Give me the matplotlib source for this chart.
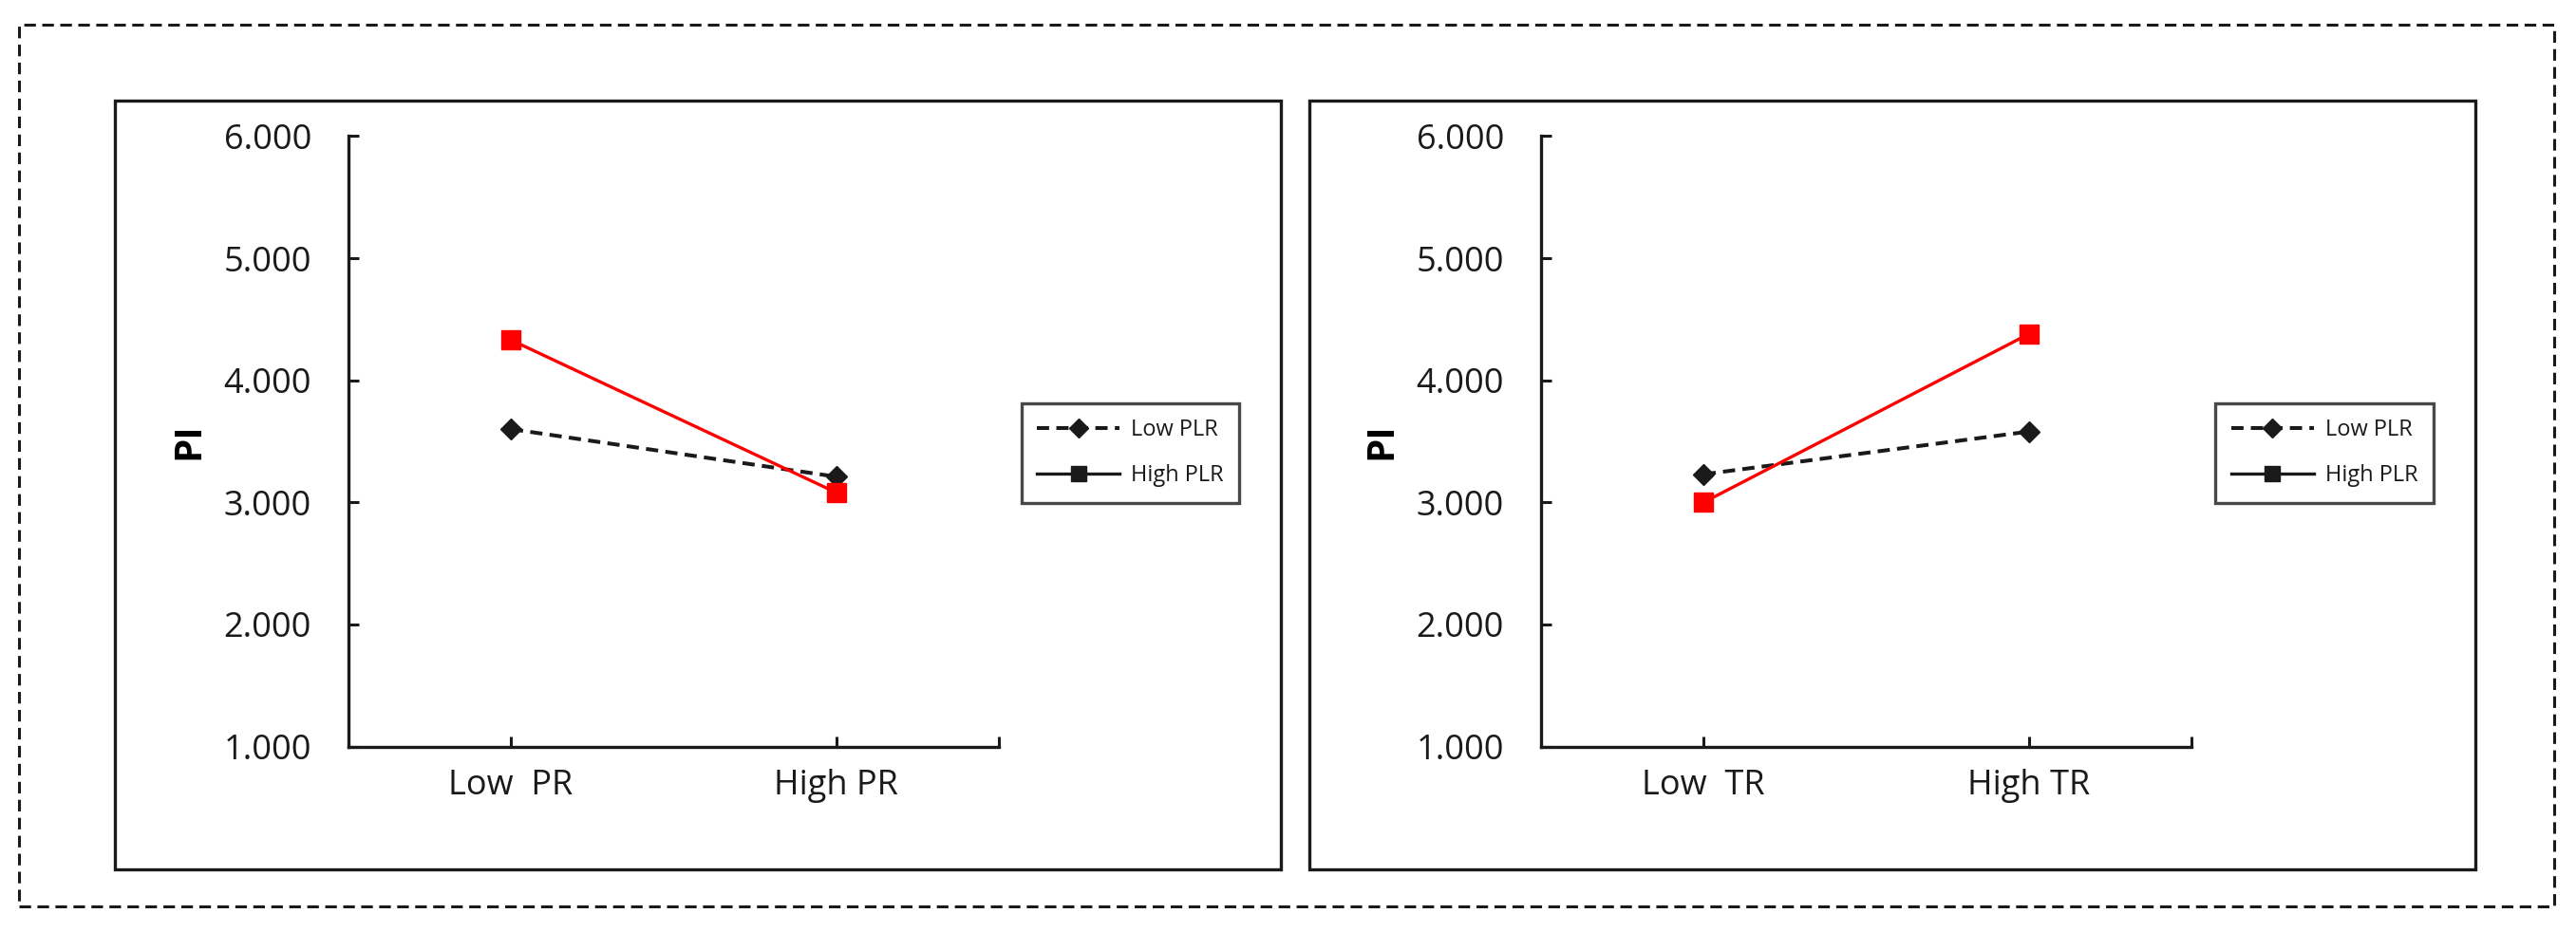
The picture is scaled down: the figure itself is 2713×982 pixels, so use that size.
"""Simple-slope interaction plots: PI by PR and TR, split by PLR level."""

import matplotlib

matplotlib.use("Agg")
import matplotlib.pyplot as plt  # noqa: E402
from matplotlib.lines import Line2D  # noqa: E402
from matplotlib.patches import Rectangle  # noqa: E402

# --- data ------------------------------------------------------------------ #
pr_labels = ["Low  PR", "High PR"]
tr_labels = ["Low  TR", "High TR"]
series_names = ["Low PLR", "High PLR"]
low_plr_pr = [3.60, 3.21]
high_plr_pr = [4.33, 3.08]
low_plr_tr = [3.23, 3.58]
high_plr_tr = [3.00, 4.38]
y_ticks = [1, 2, 3, 4, 5, 6]

INK = "#1a1a1a"
RED = "#ff0000"

plt.rcParams.update({"font.family": ["Open Sans", "DejaVu Sans"], "text.color": INK})

fig = plt.figure(figsize=(27.13, 9.82), dpi=100)
fig.patch.set_facecolor("white")

# Outer dashed frame.
fig.patches.append(Rectangle(
    (0.0074, 0.028), 0.9843, 0.946, transform=fig.transFigure,
    fill=False, edgecolor=INK, linewidth=2.2, linestyle=(0, (4, 2.2))))


def panel(box_x, ax_x, legend_x, labels, low, high):
    # Solid panel border.
    fig.patches.append(Rectangle(
        (box_x, 0.067), 0.4525, 0.825, transform=fig.transFigure,
        fill=False, edgecolor=INK, linewidth=2.4))

    ax = fig.add_axes([ax_x, 0.199, 0.2526, 0.655])
    xs = range(len(labels))
    ax.plot(xs, low, color=INK, linewidth=2.9, linestyle=(0, (3.2, 1.9)),
            marker="D", markersize=11, zorder=3)
    ax.plot(xs, high, color=RED, linewidth=2.4, linestyle="-",
            marker="s", markersize=15, zorder=4)

    ax.set_xlim(-0.5, 1.5)
    ax.set_ylim(1, 6)
    ax.set_xticks(list(xs))
    ax.set_xticklabels(labels)
    ax.set_xticks([1.5], minor=True)
    ax.set_yticks(y_ticks)
    ax.set_yticklabels([f"{v:.3f}" for v in y_ticks])
    for side in ("top", "right"):
        ax.spines[side].set_visible(False)
    for side in ("left", "bottom"):
        ax.spines[side].set_linewidth(2.4)
        ax.spines[side].set_color(INK)
    ax.tick_params(axis="y", direction="in", length=8, width=2.2,
                   pad=28, labelsize=26, colors=INK)
    ax.tick_params(axis="x", which="both", direction="in", length=8, width=2.2,
                   pad=17, labelsize=26, colors=INK)
    ax.set_ylabel("PI", fontsize=29, fontweight="bold", labelpad=12)

    handles = [
        Line2D([], [], color=INK, linewidth=2.9, linestyle=(0, (3.2, 1.9)),
               marker="D", markersize=10),
        Line2D([], [], color=INK, linewidth=2.4, linestyle="-",
               marker="s", markersize=12),
    ]
    leg = fig.legend(handles, series_names, loc="center",
                     bbox_to_anchor=(legend_x, 0.514), fontsize=17,
                     frameon=True, fancybox=False, edgecolor=INK,
                     handlelength=3.7, handletextpad=0.5, borderpad=0.7,
                     labelspacing=1.0)
    leg.get_frame().set_linewidth(2.4)
    return ax


panel(0.0446, 0.1352, 0.4388, pr_labels, low_plr_pr, high_plr_pr)
panel(0.5083, 0.5982, 0.9024, tr_labels, low_plr_tr, high_plr_tr)

fig.savefig("out.png", dpi=100, facecolor="white")
